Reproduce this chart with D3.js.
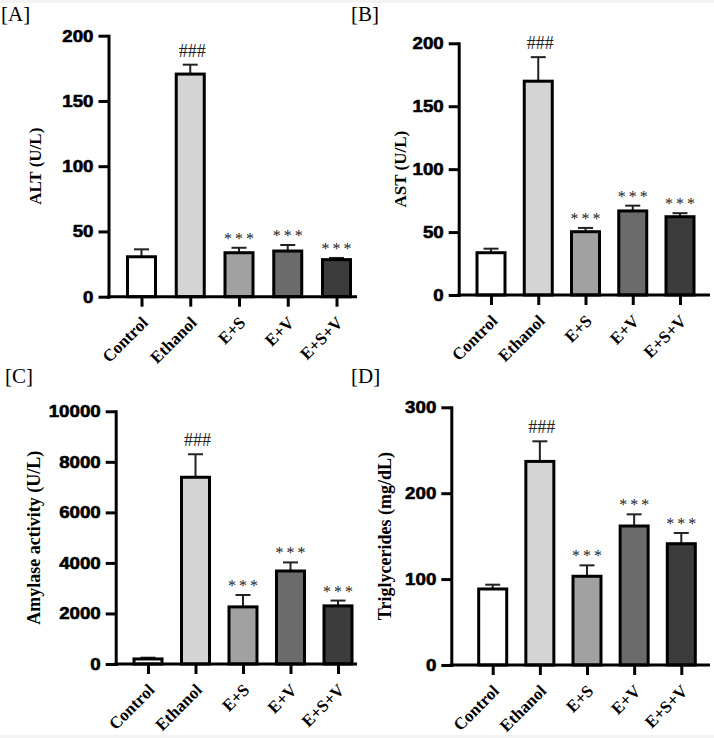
<!DOCTYPE html>
<html lang="en">
<head>
<meta charset="utf-8">
<title>Serum markers</title>
<script src="https://cdn.jsdelivr.net/npm/d3@7"></script>
<style>
  body { margin: 0; background: #f3f3f3; }
  svg { display: block; }
</style>
</head>
<body>
<script>
// groups and annotations
var groups = ["Control", "Ethanol", "E+S", "E+V", "E+S+V"];
var marks = ["", "###", "***", "***", "***"];

// values: mean and upper error (SD)
var altMean = [30.6, 170.6, 33.7, 35.0, 28.4];
var altErr = [5.7, 7.2, 3.8, 4.6, 1.3];
var astMean = [33.6, 169.9, 50.3, 66.8, 62.2];
var astErr = [3.2, 19.1, 3.0, 4.2, 2.8];
var amyMean = [200, 7390, 2260, 3680, 2300];
var amyErr = [50, 910, 470, 340, 210];
var tgMean = [88.5, 237, 103.3, 161.8, 141.2];
var tgErr = [5.0, 23.4, 12.7, 13.6, 12.5];

// tick labels
var altTicks = [0, 50, 100, 150, 200];
var astTicks = [0, 50, 100, 150, 200];
var amyTicks = [0, 2000, 4000, 6000, 8000, 10000];
var tgTicks = [0, 100, 200, 300];

var w = 714, h = 738;

var svg = d3.select("body")
            .append("svg")
            .attr("width", w)
            .attr("height", h);

svg.append("rect")
   .attr("x", 0).attr("y", 3)
   .attr("width", w).attr("height", h - 6)
   .attr("fill", "#ffffff");

var color = d3.scaleOrdinal()
              .domain(groups)
              .range(["#ffffff", "#d4d4d4", "#a1a1a1", "#6b6b6b", "#3c3c3c"]);

// one entry per panel, layout in pixels
var panels = [
  {tag: "[A]", tagX: 1, tagY: 21, title: "ALT (U/L)", titleX: 41, titleSize: 17,
   mean: altMean, err: altErr, ticks: altTicks,
   x0: 108.5, xEnd: 357, first: 141.5, last: 336.5, y0: 296.7, yTop: 35.7},
  {tag: "[B]", tagX: 351, tagY: 21, title: "AST (U/L)", titleX: 406, titleSize: 17,
   mean: astMean, err: astErr, ticks: astTicks,
   x0: 458.7, xEnd: 710, first: 491, last: 680, y0: 295, yTop: 43.3},
  {tag: "[C]", tagX: 5, tagY: 383, title: "Amylase activity (U/L)", titleX: 40, titleSize: 18,
   mean: amyMean, err: amyErr, ticks: amyTicks,
   x0: 115.7, xEnd: 357, first: 148, last: 338, y0: 664, yTop: 411.3},
  {tag: "[D]", tagX: 351, tagY: 383, title: "Triglycerides (mg/dL)", titleX: 391, titleSize: 18,
   mean: tgMean, err: tgErr, ticks: tgTicks,
   x0: 451.3, xEnd: 710, first: 492.7, last: 681.3, y0: 665, yTop: 407.3}
];

var barW = 28;      // inner width, 3px stroke around it
var stretch = 1.1;  // tick digits are a bit wider than Arial

panels.forEach(function(p) {
  var g = svg.append("g");

  var x = d3.scalePoint()
            .domain(groups)
            .range([p.first, p.last]);

  var y = d3.scaleLinear()
            .domain([0, p.ticks[p.ticks.length - 1]])
            .range([p.y0, p.yTop]);

  var rows = groups.map(function(d, i) {
    return {group: d, mean: p.mean[i], err: p.err[i], mark: marks[i]};
  });

  // error bars (upper only)
  var eb = g.selectAll(".err")
            .data(rows)
            .enter()
            .append("g")
            .attr("stroke", "#222")
            .attr("stroke-width", 2);

  eb.append("line")
    .attr("x1", function(d) { return x(d.group); })
    .attr("x2", function(d) { return x(d.group); })
    .attr("y1", function(d) { return y(d.mean); })
    .attr("y2", function(d) { return y(d.mean + d.err); });

  eb.append("line")
    .attr("x1", function(d) { return x(d.group) - 7.5; })
    .attr("x2", function(d) { return x(d.group) + 7.5; })
    .attr("y1", function(d) { return y(d.mean + d.err); })
    .attr("y2", function(d) { return y(d.mean + d.err); });

  // bars
  g.selectAll(".bar")
   .data(rows)
   .enter()
   .append("rect")
   .attr("x", function(d) { return x(d.group) - barW / 2; })
   .attr("y", function(d) { return y(d.mean); })
   .attr("width", barW)
   .attr("height", function(d) { return p.y0 - y(d.mean); })
   .attr("fill", function(d) { return color(d.group); })
   .attr("stroke", "#000")
   .attr("stroke-width", 3);

  // significance marks
  g.selectAll(".mark")
   .data(rows.filter(function(d) { return d.mark; }))
   .enter()
   .append("text")
   .attr("x", function(d) { return x(d.group) + (d.mark == "***" ? 1.5 : 2); })
   .attr("y", function(d) { return y(d.mean + d.err) - (d.mark == "***" ? 4 : 8); })
   .attr("text-anchor", "middle")
   .style("font-family", "'Liberation Serif', 'Times New Roman', serif")
   .style("font-size", function(d) { return d.mark == "***" ? "16px" : "18px"; })
   .style("letter-spacing", function(d) { return d.mark == "***" ? "3px" : "0px"; })
   .attr("fill", "#222")
   .text(function(d) { return d.mark; });

  // y axis
  var yAxis = g.append("g")
               .attr("transform", "translate(" + p.x0 + ",0)")
               .call(d3.axisLeft(y)
                       .tickValues(p.ticks)
                       .tickFormat(d3.format("d"))
                       .tickSize(10)
                       .tickSizeOuter(0));

  yAxis.select(".domain").attr("stroke-width", 3).attr("stroke-linecap", "square");
  yAxis.selectAll(".tick line").attr("stroke-width", 3);
  yAxis.selectAll(".tick text")
       .attr("x", -15 / stretch)
       .attr("transform", "scale(" + stretch + ",1)")
       .style("font-family", "'Liberation Sans', Arial, sans-serif")
       .style("font-weight", "bold")
       .style("font-size", "17px")
       .attr("fill", "#000")
       .attr("stroke", "#000")
       .attr("stroke-width", 0.6);

  // x axis
  var xAxis = g.append("g")
               .attr("transform", "translate(0," + p.y0 + ")")
               .call(d3.axisBottom(x).tickSize(10).tickSizeOuter(0));

  xAxis.select(".domain").remove();
  xAxis.selectAll(".tick line").attr("stroke-width", 3);
  xAxis.selectAll(".tick text")
       .attr("x", null).attr("y", null).attr("dy", null)
       .attr("text-anchor", "end")
       .attr("transform", "translate(7,27) rotate(-45)")
       .style("font-family", "'Liberation Serif', 'Times New Roman', serif")
       .style("font-weight", "bold")
       .style("font-size", "17px")
       .attr("fill", "#000");

  g.append("line")
   .attr("x1", p.x0 - 1.5)
   .attr("x2", p.xEnd)
   .attr("y1", p.y0)
   .attr("y2", p.y0)
   .attr("stroke", "#000")
   .attr("stroke-width", 3);

  // axis title
  g.append("text")
   .attr("transform", "translate(" + p.titleX + "," + (p.y0 + p.yTop) / 2 + ") rotate(-90)")
   .attr("text-anchor", "middle")
   .style("font-family", "'Liberation Serif', 'Times New Roman', serif")
   .style("font-weight", "bold")
   .style("font-size", p.titleSize + "px")
   .text(p.title);

  // panel tag
  svg.append("text")
     .attr("x", p.tagX)
     .attr("y", p.tagY)
     .style("font-family", "'Liberation Serif', 'Times New Roman', serif")
     .style("font-size", "21px")
     .text(p.tag);
});
</script>
</body>
</html>
